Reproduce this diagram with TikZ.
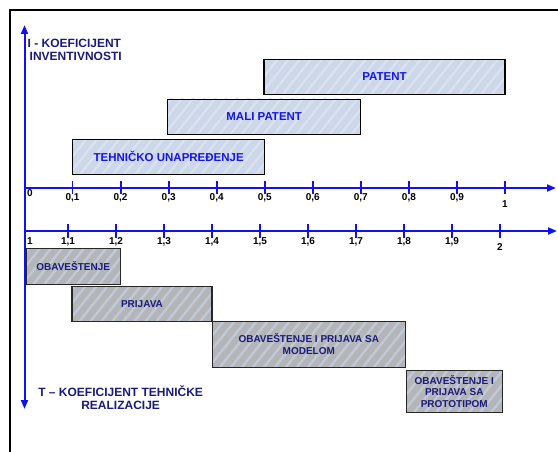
\documentclass[tikz,border=0pt]{standalone}
\usepackage{fontspec}
\setmainfont{Liberation Sans}
\usetikzlibrary{arrows.meta}
\definecolor{axisblue}{HTML}{1010F0}
\definecolor{labelnavy}{HTML}{1A1A78}
\definecolor{upfill}{HTML}{CCD7E9}
\definecolor{upstripe}{HTML}{DAE2EF}
\definecolor{lowfill}{HTML}{B4B5B8}
\definecolor{lowstripe}{HTML}{C1C9D6}
\definecolor{uptext}{HTML}{1515E6}
\begin{document}
\begin{tikzpicture}[x=1pt,y=-1pt,
  axis/.style={draw=axisblue,line width=2pt},
  tip/.style={-{Triangle[length=9pt,width=7pt]}},
  tick/.style={draw=axisblue,line width=1.8pt},
  ticklabel/.style={font=\fontsize{10}{11}\selectfont\bfseries,text=black,inner sep=0pt},
  axislabel/.style={font=\fontsize{12}{13}\selectfont\bfseries,text=labelnavy,inner sep=0pt},
  boxframe/.style={line width=1.1pt,inner sep=0pt},
  upbox/.style={boxframe,draw=black,text=uptext,font=\fontsize{11.5}{13}\selectfont\bfseries},
  lowbox/.style={boxframe,draw=black!85,text=labelnavy,font=\fontsize{10}{11.8}\selectfont\bfseries,align=center}
]
\useasboundingbox (0,0) rectangle (558,452);
\clip (0,0) rectangle (558,452);

% outer frame (runs past the right and bottom edges)
\draw[line width=2.5pt] (10,10) rectangle (620,520);

% striped backgrounds of the bars: fill, then light diagonal bands
\foreach \xa/\ya/\xb/\yb/\fc/\sc in {
    72.7/139.3/264.7/174.3/upfill/upstripe,
    167.7/99/360.7/134.7/upfill/upstripe,
    264/59.3/505/94.7/upfill/upstripe,
    26/248.3/120.3/284/lowfill/lowstripe,
    72/286/212/321.3/lowfill/lowstripe,
    212.3/321.3/405.3/367.3/lowfill/lowstripe,
    406.3/370.3/502.3/412.7/lowfill/lowstripe} {
  \begin{scope}
    \clip (\xa,\ya) rectangle (\xb,\yb);
    \fill[\fc] (\xa,\ya) rectangle (\xb,\yb);
    \foreach \k in {-60,-49,...,250}
      \fill[\sc] (\xa+\k,\yb) -- ++(3,0) -- ++(48,-60) -- ++(-3,0) -- cycle;
  \end{scope}
}

% axes
\coordinate (vtop) at (24.5,25);
\coordinate (vbot) at (24.5,409);
\coordinate (uo) at (24.5,188);
\coordinate (uend) at (556,188);
\coordinate (lo) at (24.5,231);
\coordinate (lend) at (557,231);
\draw[axis,{Triangle[length=9pt,width=7pt]}-{Triangle[length=9pt,width=7pt]}] (vbot) -- (vtop);
\draw[axis,tip] (uo) -- (uend);
\draw[axis,tip] (lo) -- (lend);

% upper scale: I
\foreach \i/\t in {1/0{,}1,2/0{,}2,3/0{,}3,4/0{,}4,5/0{,}5,6/0{,}6,7/0{,}7,8/0{,}8,9/0{,}9} {
  \draw[tick] (24.5+48.05*\i,181.5) -- (24.5+48.05*\i,194.5);
  \node[ticklabel] (ut\i) at (24.5+48.05*\i,198) {\t};
}
\draw[tick] (505,181.5) -- (505,194.5);
\node[ticklabel] (ut10) at (505,204) {1};
\node[ticklabel] (ut0) at (30,193) {0};

% lower scale: T
\foreach \i/\t in {1/1{,}1,2/1{,}2,3/1{,}3,4/1{,}4,5/1{,}5,6/1{,}6,7/1{,}7,8/1{,}8,9/1{,}9} {
  \draw[tick] (20+48*\i,224.5) -- (20+48*\i,237.5);
  \node[ticklabel] (lt\i) at (20+48*\i,241.5) {\t};
}
\draw[tick] (500,224.5) -- (500,237.5);
\node[ticklabel] (lt10) at (500,247) {2};
\node[ticklabel] (lt0) at (30,241.5) {1};

% axis titles
\node[axislabel,align=left,anchor=north west] (ilabel) at (27.5,39) {I - KOEFICIJENT\\\hspace{2pt}INVENTIVNOSTI};
\node[axislabel,align=center] (tlabel) at (120.6,398) {T -- KOEFICIJENT TEHNIČKE\\REALIZACIJE};

% inventiveness levels
\node[upbox,minimum width=192pt,minimum height=35pt] (tu) at (168.7,156.8) {TEHNIČKO UNAPREĐENJE};
\node[upbox,minimum width=193pt,minimum height=35.5pt] (mp) at (264.2,116.9) {MALI PATENT};
\node[upbox,minimum width=241pt,minimum height=35.5pt] (pat) at (384.5,77) {PATENT};

% realization stages
\node[lowbox,minimum width=94.3pt,minimum height=35.7pt] (ob) at (73.2,266.2) {OBAVEŠTENJE};
\node[lowbox,minimum width=140pt,minimum height=35.3pt] (pr) at (142,303.7) {PRIJAVA};
\node[lowbox,minimum width=193pt,minimum height=46pt] (opm) at (308.8,344.3) {OBAVEŠTENJE I PRIJAVA SA\\MODELOM};
\node[lowbox,minimum width=96pt,minimum height=42.4pt] (opp) at (454.3,391.5) {OBAVEŠTENJE I\\PRIJAVA SA\\PROTOTIPOM};
\end{tikzpicture}
\end{document}
